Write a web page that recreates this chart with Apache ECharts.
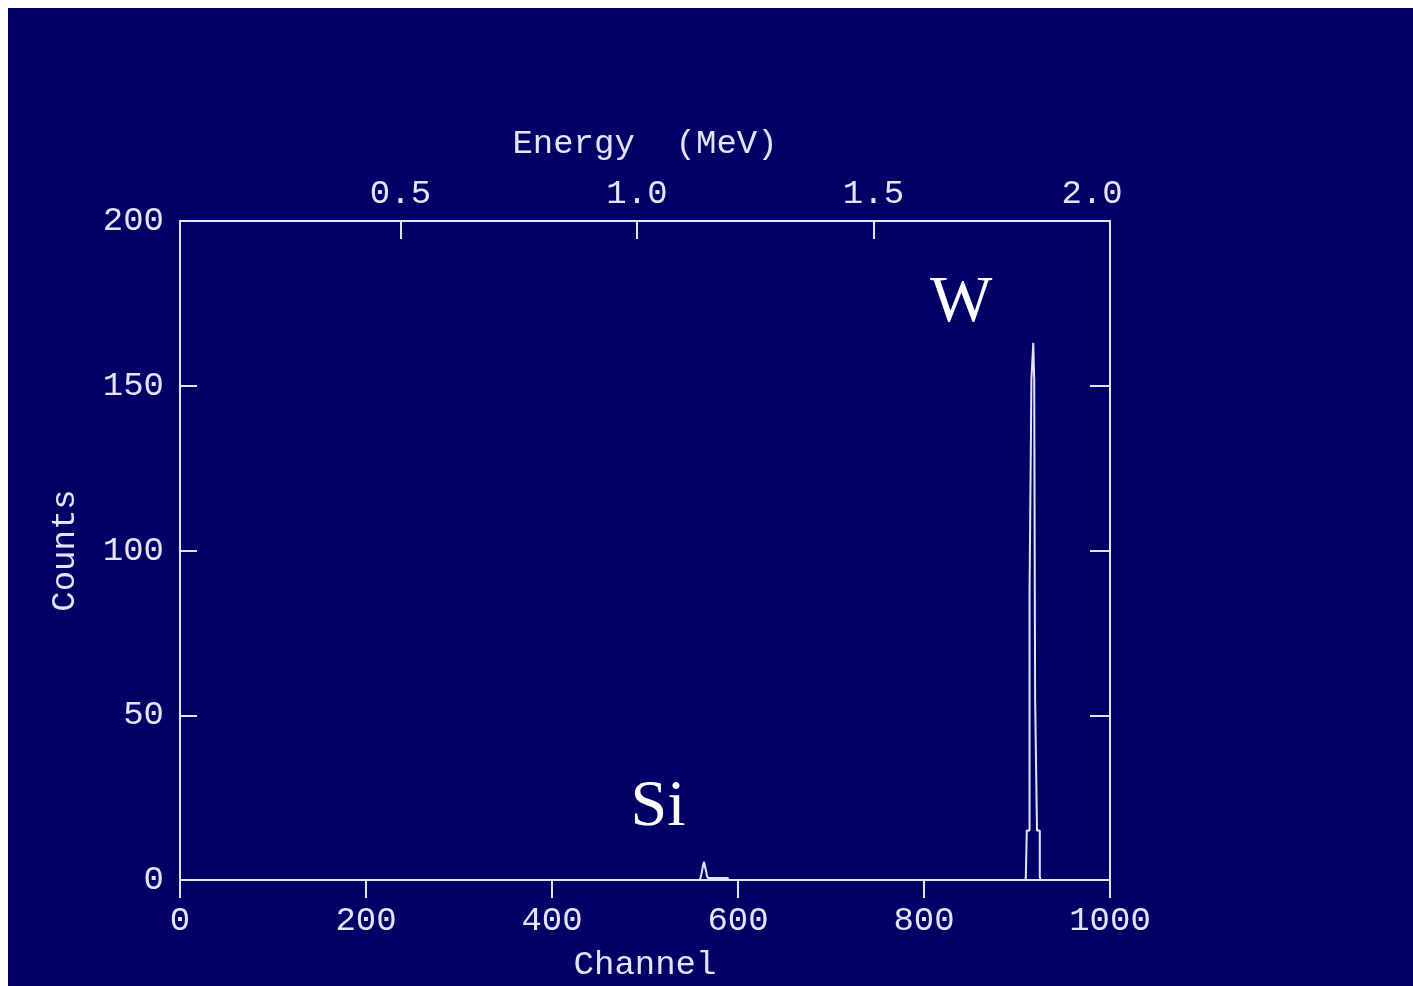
<!DOCTYPE html>
<html>
<head>
<meta charset="utf-8">
<script src="https://cdn.jsdelivr.net/npm/echarts@6/dist/echarts.min.js"></script>
<style>
  html, body { margin: 0; padding: 0; background: #ffffff; }
  #chart { position: absolute; left: 8px; top: 8px; width: 1405px; height: 978px; background: #000066; }
</style>
</head>
<body>
<div id="chart"></div>
<script>
// Si peak (channel -> counts)
const siChannels = [559, 560, 561, 562, 563, 564, 565, 566, 567, 568, 569, 589, 590];
const siCounts = [0, 0.5, 1.5, 3, 4.5, 5.5, 4, 3, 1.5, 0.6, 0.6, 0.6, 0];

// W peak (channel -> counts)
const wChannels = [909, 910, 911, 912, 913, 914, 915, 916, 917, 918, 919, 920, 921, 922, 923, 924, 925, 926];
const wCounts = [0, 1, 15, 15, 15, 88, 88, 152, 152, 163, 152, 55, 55, 15, 15, 15, 1, 0];

// axis ticks
const channelTicks = [0, 200, 400, 600, 800, 1000];
const countTicks = [0, 50, 100, 150, 200];
const energyTicks = [0.5, 1.0, 1.5, 2.0];

// element labels on the peaks
const peakNames = ['Si', 'W'];
const peakNameChannel = [514, 840];
const peakNameCounts = [22, 175];

const fg = '#e4e4fa';
const font = 'Liberation Mono';

const chart = echarts.init(document.getElementById('chart'));

const baseAxis = {
  axisLine: { onZero: false, lineStyle: { color: fg, width: 2 } },
  splitLine: { show: false },
  axisLabel: { color: fg, fontFamily: font, fontSize: 34 },
  nameTextStyle: { color: fg, fontFamily: font, fontSize: 34 }
};

const peakSeries = (xs, ys) => ({
  type: 'line',
  step: 'middle',
  xAxisIndex: 0,
  yAxisIndex: 0,
  symbol: 'none',
  lineStyle: { color: fg, width: 2 },
  data: xs.map((c, i) => [c, ys[i]])
});

chart.setOption({
  animation: false,
  grid: { left: 172, top: 213, right: 303, bottom: 106, outerBoundsMode: 'none', containLabel: false },
  xAxis: [{
    ...baseAxis,
    type: 'value',
    position: 'bottom',
    min: channelTicks[0],
    max: channelTicks[channelTicks.length - 1],
    interval: 200,
    name: 'Channel',
    nameLocation: 'middle',
    nameGap: 68,
    axisTick: { inside: false, length: 18, lineStyle: { color: fg, width: 2 } },
    axisLabel: {
      ...baseAxis.axisLabel, margin: 24, showMinLabel: true, showMaxLabel: true,
      formatter: v => String(v)
    }
  }, {
    ...baseAxis,
    type: 'value',
    position: 'top',
    min: 0.034,
    max: 2.0,
    name: 'Energy  (MeV)',
    nameLocation: 'middle',
    nameGap: 60,
    axisTick: {
      inside: true, length: 18, customValues: energyTicks.slice(0, 3),
      lineStyle: { color: fg, width: 2 }
    },
    axisLabel: {
      ...baseAxis.axisLabel,
      margin: 10,
      customValues: energyTicks,
      formatter: v => v === 2 ? '{r|' + v.toFixed(1) + '}' : v.toFixed(1),
      rich: { r: { color: fg, fontFamily: font, fontSize: 34, padding: [0, 36, 0, 0] } }
    }
  }],
  yAxis: [{
    ...baseAxis,
    type: 'value',
    position: 'left',
    min: countTicks[0],
    max: countTicks[countTicks.length - 1],
    interval: 50,
    name: 'Counts',
    nameLocation: 'middle',
    nameGap: 98,
    nameRotate: 90,
    axisTick: { inside: true, length: 17, lineStyle: { color: fg, width: 2 } },
    axisLabel: { ...baseAxis.axisLabel, margin: 16 }
  }, {
    ...baseAxis,
    type: 'value',
    position: 'right',
    min: countTicks[0],
    max: countTicks[countTicks.length - 1],
    interval: 50,
    axisTick: { inside: true, length: 20, lineStyle: { color: fg, width: 2 } },
    axisLabel: { show: false }
  }],
  series: [
    peakSeries(siChannels, siCounts),
    {
      ...peakSeries(wChannels, wCounts),
      markPoint: {
        symbol: 'circle',
        symbolSize: 1,
        itemStyle: { color: 'rgba(0,0,0,0)' },
        label: {
          show: true,
          position: 'inside',
          color: '#ffffff',
          fontFamily: 'Liberation Serif',
          fontSize: 66,
          formatter: p => p.name
        },
        data: peakNames.map((n, i) => ({ name: n, coord: [peakNameChannel[i], peakNameCounts[i]] }))
      }
    }
  ]
});
</script>
</body>
</html>
